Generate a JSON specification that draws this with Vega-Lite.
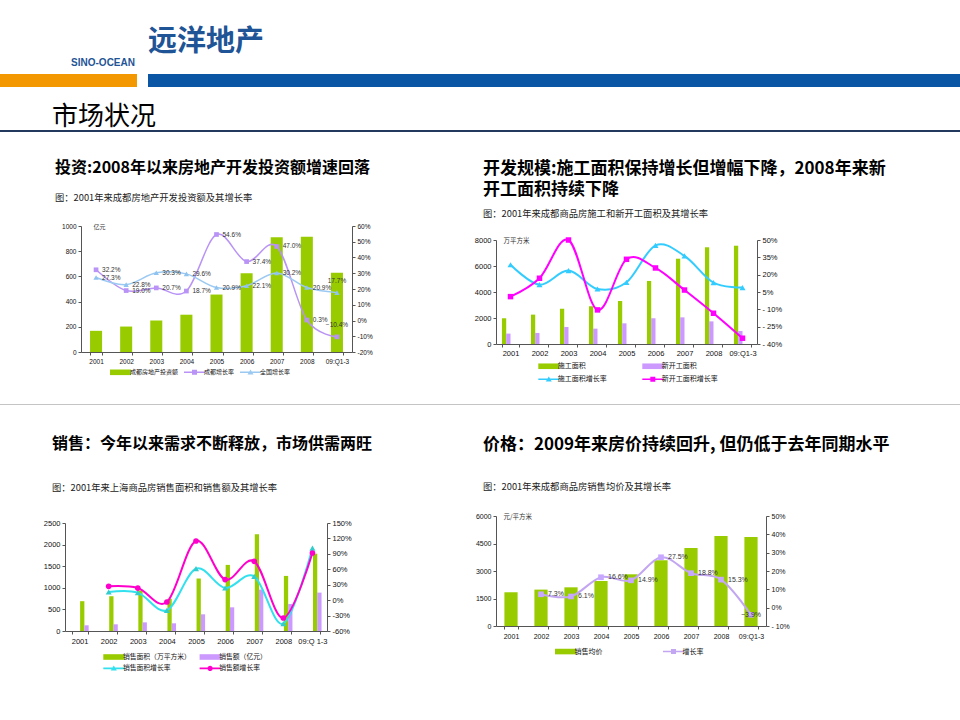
{
  "$schema": "https://vega.github.io/schema/vega-lite/v6.json",
  "background": "white",
  "padding": {"left": 0, "top": 28, "right": 0, "bottom": 0},
  "spacing": 0,
  "resolve": {"scale": {"color": "independent", "shape": "independent"}},
  "config": {
    "view": {"stroke": null},
    "concat": {"spacing": 0},
    "axis": {"grid": false, "domainColor": "#555555", "tickColor": "#555555", "labelColor": "#111111", "labelFont": "Liberation Sans", "tickSize": 3, "labelPadding": 2},
    "title": {"font": "Noto Sans CJK SC", "color": "#000000", "anchor": "start", "frame": "group", "subtitleFont": "Noto Sans CJK SC", "subtitleColor": "#222222", "subtitleFontSize": 9.3},
    "legend": {"padding": 0}
  },
  "vconcat": [
    {
      "spacing": 11,
      "hconcat": [
        {
          "width": 137, "height": 13,
          "data": {"values": []},
          "mark": "point",
          "view": {"fill": "#f39800", "stroke": null},
          "title": {"text": " ", "subtitle": "SINO-OCEAN", "anchor": "end", "fontSize": 29, "subtitleFont": "Liberation Sans", "subtitleFontWeight": "bold", "subtitleFontSize": 10, "subtitleColor": "#1f5496", "subtitlePadding": 1, "offset": 6, "dx": -2}
        },
        {
          "width": 812, "height": 13,
          "data": {"values": []},
          "mark": "point",
          "view": {"fill": "#0b56a4", "stroke": null},
          "title": {"text": "远洋地产", "subtitle": " ", "fontSize": 29, "fontWeight": "bold", "color": "#1f5496", "subtitleFontSize": 10, "subtitlePadding": 1, "offset": 6}
        }
      ]
    },
    {"width": 1, "height": 17, "data": {"values": []}, "mark": "point"},
    {
      "width": 960, "height": 2,
      "data": {"values": []},
      "mark": "point",
      "view": {"fill": "#23395d", "stroke": null},
      "title": {"text": "市场状况", "fontSize": 26, "fontWeight": "normal", "dx": 52, "offset": 0}
    },
    {"width": 1, "height": 27, "data": {"values": []}, "mark": "point"},
    {
      "spacing": 0,
      "resolve": {"scale": {"color": "independent", "shape": "independent"}},
      "hconcat": [
        {"width": 1, "height": 1, "data": {"values": []}, "mark": "point"},
        {
          "spacing": 0,
          "resolve": {"scale": {"color": "independent", "shape": "independent"}},
          "vconcat": [
            {"width": 1, "height": 1, "data": {"values": []}, "mark": "point"},
            {
              "width": 271, "height": 126,
              "title": {"text": "投资:2008年以来房地产开发投资额增速回落", "subtitle": "　图：2001年来成都房地产开发投资额及其增长率", "fontSize": 16, "fontWeight": "bold", "dx": -26, "subtitlePadding": 17.5, "offset": 20},
              "data": {"values": [
                {"year": "2001", "series": "成都房地产投资额", "kind": "bar", "value": 168},
                {"year": "2002", "series": "成都房地产投资额", "kind": "bar", "value": 202},
                {"year": "2003", "series": "成都房地产投资额", "kind": "bar", "value": 250},
                {"year": "2004", "series": "成都房地产投资额", "kind": "bar", "value": 296},
                {"year": "2005", "series": "成都房地产投资额", "kind": "bar", "value": 456},
                {"year": "2006", "series": "成都房地产投资额", "kind": "bar", "value": 625},
                {"year": "2007", "series": "成都房地产投资额", "kind": "bar", "value": 910},
                {"year": "2008", "series": "成都房地产投资额", "kind": "bar", "value": 914},
                {"year": "09:Q1-3", "series": "成都房地产投资额", "kind": "bar", "value": 628},
                {"year": "2001", "series": "成都增长率", "kind": "line", "value": 0.322},
                {"year": "2002", "series": "成都增长率", "kind": "line", "value": 0.19},
                {"year": "2003", "series": "成都增长率", "kind": "line", "value": 0.207},
                {"year": "2004", "series": "成都增长率", "kind": "line", "value": 0.187},
                {"year": "2005", "series": "成都增长率", "kind": "line", "value": 0.546},
                {"year": "2006", "series": "成都增长率", "kind": "line", "value": 0.374},
                {"year": "2007", "series": "成都增长率", "kind": "line", "value": 0.47},
                {"year": "2008", "series": "成都增长率", "kind": "line", "value": 0.003},
                {"year": "09:Q1-3", "series": "成都增长率", "kind": "line", "value": -0.104},
                {"year": "2001", "series": "全国增长率", "kind": "line", "value": 0.273},
                {"year": "2002", "series": "全国增长率", "kind": "line", "value": 0.228},
                {"year": "2003", "series": "全国增长率", "kind": "line", "value": 0.303},
                {"year": "2004", "series": "全国增长率", "kind": "line", "value": 0.296},
                {"year": "2005", "series": "全国增长率", "kind": "line", "value": 0.209},
                {"year": "2006", "series": "全国增长率", "kind": "line", "value": 0.221},
                {"year": "2007", "series": "全国增长率", "kind": "line", "value": 0.302},
                {"year": "2008", "series": "全国增长率", "kind": "line", "value": 0.209},
                {"year": "09:Q1-3", "series": "全国增长率", "kind": "line", "value": 0.177}
              ]},
              "layer": [
                {
                  "transform": [{"filter": "datum.kind === 'bar'"}],
                  "mark": {"type": "bar", "color": "#99cc00"},
                  "encoding": {
                    "x": {"field": "year", "type": "nominal", "sort": ["2001","2002","2003","2004","2005","2006","2007","2008","09:Q1-3"], "scale": {"paddingInner": 0.6, "paddingOuter": 0.3}, "axis": {"title": null, "labelAngle": 0, "labelFontSize": 6.5, "labelPadding": 3, "tickSize": 3, "tickBand": "extent", "labelOverlap": false}},
                    "y": {"field": "value", "type": "quantitative", "scale": {"domain": [0, 1000], "nice": false}, "axis": {"values": [0, 200, 400, 600, 800, 1000], "format": "d", "title": "亿元", "titleAngle": 0, "titleX": 12, "titleY": 0, "titleAlign": "left", "titleBaseline": "middle", "titleFont": "Noto Sans CJK SC", "titleFontSize": 6, "titleFontWeight": "normal", "titleColor": "#333333", "labelFontSize": 6.5, "minExtent": 80, "maxExtent": 80, "labelFlush": false, "labelOverlap": false}}
                  }
                },
                {
                  "transform": [{"filter": "datum.kind === 'line'"}],
                  "encoding": {
                    "x": {"field": "year", "type": "nominal", "sort": ["2001","2002","2003","2004","2005","2006","2007","2008","09:Q1-3"]},
                    "y": {"field": "value", "type": "quantitative", "scale": {"domain": [-0.2, 0.6], "nice": false, "zero": false}, "axis": {"orient": "right", "title": null, "values": [-0.2, -0.1, 0, 0.1, 0.2, 0.3, 0.4, 0.5, 0.6], "labelExpr": "datum.value < 0 ? '-' + format(-datum.value, '.0%') : format(datum.value, '.0%')", "labelFontSize": 6.5, "minExtent": 40, "maxExtent": 40, "labelFlush": false, "labelOverlap": false}}
                  },
                  "layer": [
                    {"transform": [{"filter": "datum.series === '成都增长率'"}], "mark": {"type": "line", "interpolate": "cardinal", "strokeWidth": 1.5, "color": "#b993f5"}},
                    {"transform": [{"filter": "datum.series === '全国增长率'"}], "mark": {"type": "line", "interpolate": "cardinal", "strokeWidth": 1.5, "color": "#9cc9f2"}},
                    {"transform": [{"filter": "datum.series === '成都增长率'"}], "mark": {"type": "point", "shape": "square", "filled": true, "opacity": 1, "size": 22, "color": "#b993f5"}},
                    {"transform": [{"filter": "datum.series === '全国增长率'"}], "mark": {"type": "point", "shape": "triangle-up", "filled": true, "opacity": 1, "size": 28, "color": "#8fc3f0"}},
                    {"transform": [{"filter": "datum.year !== '09:Q1-3'"}], "mark": {"type": "text", "align": "left", "baseline": "middle", "dx": 6, "fontSize": 6.5, "font": "Liberation Sans", "color": "#333333"}, "encoding": {"text": {"field": "value", "type": "quantitative", "format": ".1%"}}},
                    {"transform": [{"filter": "datum.year === '09:Q1-3'"}], "mark": {"type": "text", "align": "center", "baseline": "middle", "dy": -12, "fontSize": 6.5, "font": "Liberation Sans", "color": "#333333"}, "encoding": {"text": {"field": "value", "type": "quantitative", "format": ".1%"}}}
                  ]
                },
                {
                  "mark": {"type": "point", "filled": true, "opacity": 0},
                  "encoding": {
                    "color": {"field": "series", "type": "nominal", "scale": {"domain": ["成都房地产投资额", "成都增长率", "全国增长率"], "range": ["#99cc00", "#b993f5", "#9cc9f2"]}, "legend": {"title": null, "orient": "none", "legendX": 29, "legendY": 143.3, "direction": "horizontal", "columnPadding": 5, "symbolSize": 16, "symbolOffset": -3, "symbolStrokeWidth": 0, "symbolOpacity": 1, "labelOffset": 17, "labelFontSize": 6, "labelFont": "Noto Sans CJK SC", "labelColor": "#111111", "padding": 0}},
                    "shape": {"field": "series", "type": "nominal", "scale": {"domain": ["成都房地产投资额", "成都增长率", "全国增长率"], "range": ["M0,-1.4H10.5V1.4H0Z", "M0,-0.35H10.5V0.35H0Z M4,-1.25H6.5V1.25H4Z", "M0,-0.35H10.5V0.35H0Z M5.25,-1.45L6.75,1.1H3.75Z"]}, "legend": {"title": null, "orient": "none", "legendX": 29, "legendY": 143.3, "direction": "horizontal", "columnPadding": 5, "symbolSize": 16, "symbolOffset": -3, "symbolStrokeWidth": 0, "symbolOpacity": 1, "labelOffset": 17, "labelFontSize": 6, "labelFont": "Noto Sans CJK SC", "labelColor": "#111111", "padding": 0}}
                  }
                }
              ],
              "resolve": {"scale": {"y": "independent"}}
            }
          ]
        },
        {
          "spacing": 0,
          "resolve": {"scale": {"color": "independent", "shape": "independent"}},
          "vconcat": [
            {"width": 1, "height": 1, "data": {"values": []}, "mark": "point"},
            {
              "width": 261, "height": 104,
              "title": {"text": ["开发规模:施工面积保持增长但增幅下降，2008年来新", "开工面积持续下降"], "lineHeight": 21, "subtitle": "图：2001年来成都商品房施工和新开工面积及其增长率", "fontSize": 17, "fontWeight": "bold", "dx": -13, "subtitlePadding": 10.5, "offset": 15.5},
              "data": {"values": [
                {"year": "2001", "series": "施工面积", "kind": "bar", "value": 1980},
                {"year": "2002", "series": "施工面积", "kind": "bar", "value": 2260},
                {"year": "2003", "series": "施工面积", "kind": "bar", "value": 2720},
                {"year": "2004", "series": "施工面积", "kind": "bar", "value": 2900},
                {"year": "2005", "series": "施工面积", "kind": "bar", "value": 3310},
                {"year": "2006", "series": "施工面积", "kind": "bar", "value": 4850},
                {"year": "2007", "series": "施工面积", "kind": "bar", "value": 6560},
                {"year": "2008", "series": "施工面积", "kind": "bar", "value": 7440},
                {"year": "09:Q1-3", "series": "施工面积", "kind": "bar", "value": 7560},
                {"year": "2001", "series": "新开工面积", "kind": "bar", "value": 800},
                {"year": "2002", "series": "新开工面积", "kind": "bar", "value": 850},
                {"year": "2003", "series": "新开工面积", "kind": "bar", "value": 1310},
                {"year": "2004", "series": "新开工面积", "kind": "bar", "value": 1180},
                {"year": "2005", "series": "新开工面积", "kind": "bar", "value": 1590},
                {"year": "2006", "series": "新开工面积", "kind": "bar", "value": 1980},
                {"year": "2007", "series": "新开工面积", "kind": "bar", "value": 2050},
                {"year": "2008", "series": "新开工面积", "kind": "bar", "value": 1740},
                {"year": "09:Q1-3", "series": "新开工面积", "kind": "bar", "value": 1000},
                {"year": "2001", "series": "施工面积增长率", "kind": "line", "value": 0.286},
                {"year": "2002", "series": "施工面积增长率", "kind": "line", "value": 0.113},
                {"year": "2003", "series": "施工面积增长率", "kind": "line", "value": 0.235},
                {"year": "2004", "series": "施工面积增长率", "kind": "line", "value": 0.076},
                {"year": "2005", "series": "施工面积增长率", "kind": "line", "value": 0.134},
                {"year": "2006", "series": "施工面积增长率", "kind": "line", "value": 0.454},
                {"year": "2007", "series": "施工面积增长率", "kind": "line", "value": 0.362},
                {"year": "2008", "series": "施工面积增长率", "kind": "line", "value": 0.131},
                {"year": "09:Q1-3", "series": "施工面积增长率", "kind": "line", "value": 0.088},
                {"year": "2001", "series": "新开工面积增长率", "kind": "line", "value": 0.01},
                {"year": "2002", "series": "新开工面积增长率", "kind": "line", "value": 0.169},
                {"year": "2003", "series": "新开工面积增长率", "kind": "line", "value": 0.5},
                {"year": "2004", "series": "新开工面积增长率", "kind": "line", "value": -0.105},
                {"year": "2005", "series": "新开工面积增长率", "kind": "line", "value": 0.333},
                {"year": "2006", "series": "新开工面积增长率", "kind": "line", "value": 0.258},
                {"year": "2007", "series": "新开工面积增长率", "kind": "line", "value": 0.067},
                {"year": "2008", "series": "新开工面积增长率", "kind": "line", "value": -0.134},
                {"year": "09:Q1-3", "series": "新开工面积增长率", "kind": "line", "value": -0.35}
              ]},
              "layer": [
                {
                  "transform": [{"filter": "datum.kind === 'bar'"}],
                  "encoding": {
                    "x": {"field": "year", "type": "nominal", "sort": ["2001","2002","2003","2004","2005","2006","2007","2008","09:Q1-3"], "scale": {"paddingInner": 0.41, "paddingOuter": 0.205}, "axis": {"title": null, "labelAngle": 0, "labelFontSize": 7.5, "labelPadding": 2, "tickSize": 3, "tickBand": "extent", "labelOverlap": false}},
                    "xOffset": {"field": "series", "type": "nominal", "sort": ["施工面积", "新开工面积"], "scale": {"domain": ["施工面积", "新开工面积"], "paddingInner": 0, "paddingOuter": 0}},
                    "y": {"field": "value", "type": "quantitative", "scale": {"domain": [0, 8000], "nice": false}, "axis": {"values": [0, 2000, 4000, 6000, 8000], "format": "d", "title": "万平方米", "titleAngle": 0, "titleX": 7, "titleY": 0, "titleAlign": "left", "titleBaseline": "middle", "titleFont": "Noto Sans CJK SC", "titleFontSize": 6.5, "titleFontWeight": "normal", "titleColor": "#333333", "labelFontSize": 7.5, "minExtent": 104, "maxExtent": 104, "labelFlush": false, "labelOverlap": false}}
                  },
                  "layer": [
                    {"transform": [{"filter": "datum.series === '施工面积'"}], "mark": {"type": "bar", "color": "#99cc00"}},
                    {"transform": [{"filter": "datum.series === '新开工面积'"}], "mark": {"type": "bar", "color": "#cc99ff"}}
                  ]
                },
                {
                  "transform": [{"filter": "datum.kind === 'line'"}],
                  "encoding": {
                    "x": {"field": "year", "type": "nominal", "sort": ["2001","2002","2003","2004","2005","2006","2007","2008","09:Q1-3"]},
                    "y": {"field": "value", "type": "quantitative", "scale": {"domain": [-0.4, 0.5], "nice": false, "zero": false}, "axis": {"orient": "right", "title": null, "values": [-0.4, -0.25, -0.1, 0.05, 0.2, 0.35, 0.5], "labelExpr": "datum.value < 0 ? '- ' + format(-datum.value, '.0%') : format(datum.value, '.0%')", "labelFontSize": 7.5, "minExtent": 30, "maxExtent": 30, "labelFlush": false, "labelOverlap": false}}
                  },
                  "layer": [
                    {"transform": [{"filter": "datum.series === '施工面积增长率'"}], "mark": {"type": "line", "interpolate": "cardinal", "strokeWidth": 2, "color": "#33ccff"}},
                    {"transform": [{"filter": "datum.series === '新开工面积增长率'"}], "mark": {"type": "line", "interpolate": "cardinal", "strokeWidth": 2, "color": "#ff00ff"}},
                    {"transform": [{"filter": "datum.series === '施工面积增长率'"}], "mark": {"type": "point", "shape": "triangle-up", "filled": true, "opacity": 1, "size": 36, "color": "#33ccff"}},
                    {"transform": [{"filter": "datum.series === '新开工面积增长率'"}], "mark": {"type": "point", "shape": "square", "filled": true, "opacity": 1, "size": 30, "color": "#ff00ff"}}
                  ]
                },
                {
                  "mark": {"type": "point", "filled": true, "opacity": 0},
                  "encoding": {
                    "color": {"field": "series", "type": "nominal", "scale": {"domain": ["施工面积", "新开工面积", "施工面积增长率", "新开工面积增长率"], "range": ["#99cc00", "#cc99ff", "#33ccff", "#ff00ff"]}, "legend": {"title": null, "orient": "none", "legendX": 42.3, "legendY": 122.5, "direction": "horizontal", "columns": 2, "columnPadding": 35, "rowPadding": 5.3, "symbolSize": 16, "symbolOffset": -3.5, "symbolStrokeWidth": 0, "symbolOpacity": 1, "labelOffset": 16, "labelFontSize": 7, "labelFont": "Noto Sans CJK SC", "labelColor": "#111111", "padding": 0}},
                    "shape": {"field": "series", "type": "nominal", "scale": {"domain": ["施工面积", "新开工面积", "施工面积增长率", "新开工面积增长率"], "range": ["M0,-1.4H10.5V1.4H0Z", "M0,-1.4H10.5V1.4H0Z", "M0,-0.4H10.5V0.4H0Z M5.25,-1.45L6.75,1.1H3.75Z", "M0,-0.4H10.5V0.4H0Z M4,-1.25H6.5V1.25H4Z"]}, "legend": {"title": null, "orient": "none", "legendX": 42.3, "legendY": 122.5, "direction": "horizontal", "columns": 2, "columnPadding": 35, "rowPadding": 5.3, "symbolSize": 16, "symbolOffset": -3.5, "symbolStrokeWidth": 0, "symbolOpacity": 1, "labelOffset": 16, "labelFontSize": 7, "labelFont": "Noto Sans CJK SC", "labelColor": "#111111", "padding": 0}}
                  }
                }
              ],
              "resolve": {"scale": {"y": "independent"}}
            }
          ]
        }
      ]
    },
    {"width": 1, "height": 21, "data": {"values": []}, "mark": "point"},
    {"width": 960, "height": 1, "data": {"values": []}, "mark": "point", "view": {"fill": "#c4c4c4", "stroke": null}},
    {"width": 1, "height": 29.5, "data": {"values": []}, "mark": "point"},
    {
      "spacing": 0,
      "resolve": {"scale": {"color": "independent", "shape": "independent"}},
      "hconcat": [
        {"width": 1, "height": 1, "data": {"values": []}, "mark": "point"},
        {
          "spacing": 0,
          "resolve": {"scale": {"color": "independent", "shape": "independent"}},
          "vconcat": [
            {"width": 1, "height": 1, "data": {"values": []}, "mark": "point"},
            {
              "width": 262, "height": 108,
              "title": {"text": "销售：今年以来需求不断释放，市场供需两旺", "subtitle": "图：2001年来上海商品房销售面积和销售额及其增长率", "fontSize": 16, "fontWeight": "bold", "dx": -13, "subtitlePadding": 32, "offset": 25.5},
              "data": {"values": [
                {"year": "2001", "series": "销售面积（万平方米）", "kind": "bar", "value": 690},
                {"year": "2002", "series": "销售面积（万平方米）", "kind": "bar", "value": 805},
                {"year": "2003", "series": "销售面积（万平方米）", "kind": "bar", "value": 940},
                {"year": "2004", "series": "销售面积（万平方米）", "kind": "bar", "value": 745},
                {"year": "2005", "series": "销售面积（万平方米）", "kind": "bar", "value": 1215},
                {"year": "2006", "series": "销售面积（万平方米）", "kind": "bar", "value": 1530},
                {"year": "2007", "series": "销售面积（万平方米）", "kind": "bar", "value": 2240},
                {"year": "2008", "series": "销售面积（万平方米）", "kind": "bar", "value": 1275},
                {"year": "09:Q 1-3", "series": "销售面积（万平方米）", "kind": "bar", "value": 1790},
                {"year": "2001", "series": "销售额（亿元）", "kind": "bar", "value": 132},
                {"year": "2002", "series": "销售额（亿元）", "kind": "bar", "value": 155},
                {"year": "2003", "series": "销售额（亿元）", "kind": "bar", "value": 200},
                {"year": "2004", "series": "销售额（亿元）", "kind": "bar", "value": 178},
                {"year": "2005", "series": "销售额（亿元）", "kind": "bar", "value": 386},
                {"year": "2006", "series": "销售额（亿元）", "kind": "bar", "value": 548},
                {"year": "2007", "series": "销售额（亿元）", "kind": "bar", "value": 958},
                {"year": "2008", "series": "销售额（亿元）", "kind": "bar", "value": 625},
                {"year": "09:Q 1-3", "series": "销售额（亿元）", "kind": "bar", "value": 889},
                {"year": "2002", "series": "销售面积增长率", "kind": "line", "value": 0.158},
                {"year": "2003", "series": "销售面积增长率", "kind": "line", "value": 0.146},
                {"year": "2004", "series": "销售面积增长率", "kind": "line", "value": -0.198},
                {"year": "2005", "series": "销售面积增长率", "kind": "line", "value": 0.613},
                {"year": "2006", "series": "销售面积增长率", "kind": "line", "value": 0.236},
                {"year": "2007", "series": "销售面积增长率", "kind": "line", "value": 0.463},
                {"year": "2008", "series": "销售面积增长率", "kind": "line", "value": -0.457},
                {"year": "09:Q 1-3", "series": "销售面积增长率", "kind": "line", "value": 1.01},
                {"year": "2002", "series": "销售额增长率", "kind": "line", "value": 0.268},
                {"year": "2003", "series": "销售额增长率", "kind": "line", "value": 0.235},
                {"year": "2004", "series": "销售额增长率", "kind": "line", "value": -0.037},
                {"year": "2005", "series": "销售额增长率", "kind": "line", "value": 1.15},
                {"year": "2006", "series": "销售额增长率", "kind": "line", "value": 0.399},
                {"year": "2007", "series": "销售额增长率", "kind": "line", "value": 0.755},
                {"year": "2008", "series": "销售额增长率", "kind": "line", "value": -0.348},
                {"year": "09:Q 1-3", "series": "销售额增长率", "kind": "line", "value": 0.916}
              ]},
              "layer": [
                {
                  "transform": [{"filter": "datum.kind === 'bar'"}],
                  "encoding": {
                    "x": {"field": "year", "type": "nominal", "sort": ["2001","2002","2003","2004","2005","2006","2007","2008","09:Q 1-3"], "scale": {"paddingInner": 0.45, "paddingOuter": 0.225}, "axis": {"title": null, "labelAngle": 0, "labelFontSize": 7.5, "labelPadding": 3, "tickSize": 3, "tickBand": "extent", "labelOverlap": false}},
                    "xOffset": {"field": "series", "type": "nominal", "sort": ["销售面积（万平方米）", "销售额（亿元）"], "scale": {"domain": ["销售面积（万平方米）", "销售额（亿元）"], "paddingInner": 0, "paddingOuter": 0}},
                    "y": {"field": "value", "type": "quantitative", "scale": {"domain": [0, 2500], "nice": false}, "axis": {"values": [0, 500, 1000, 1500, 2000, 2500], "format": "d", "title": null, "labelFontSize": 7.5, "minExtent": 64, "maxExtent": 64, "labelFlush": false, "labelOverlap": false}}
                  },
                  "layer": [
                    {"transform": [{"filter": "datum.series === '销售面积（万平方米）'"}], "mark": {"type": "bar", "color": "#99cc00"}},
                    {"transform": [{"filter": "datum.series === '销售额（亿元）'"}], "mark": {"type": "bar", "color": "#cc99ff"}}
                  ]
                },
                {
                  "transform": [{"filter": "datum.kind === 'line'"}],
                  "encoding": {
                    "x": {"field": "year", "type": "nominal", "sort": ["2001","2002","2003","2004","2005","2006","2007","2008","09:Q 1-3"]},
                    "y": {"field": "value", "type": "quantitative", "scale": {"domain": [-0.6, 1.5], "nice": false, "zero": false}, "axis": {"orient": "right", "title": null, "values": [-0.6, -0.3, 0, 0.3, 0.6, 0.9, 1.2, 1.5], "labelExpr": "datum.value < 0 ? '-' + format(-datum.value, '.0%') : format(datum.value, '.0%')", "labelFontSize": 7.5, "minExtent": 50, "maxExtent": 50, "labelFlush": false, "labelOverlap": false}}
                  },
                  "layer": [
                    {"transform": [{"filter": "datum.series === '销售面积增长率'"}], "mark": {"type": "line", "interpolate": "cardinal", "strokeWidth": 2, "color": "#33e0ee"}},
                    {"transform": [{"filter": "datum.series === '销售额增长率'"}], "mark": {"type": "line", "interpolate": "cardinal", "strokeWidth": 2, "color": "#ff00cc"}},
                    {"transform": [{"filter": "datum.series === '销售面积增长率'"}], "mark": {"type": "point", "shape": "triangle-up", "filled": true, "opacity": 1, "size": 36, "color": "#33cccc"}},
                    {"transform": [{"filter": "datum.series === '销售额增长率'"}], "mark": {"type": "point", "shape": "circle", "filled": true, "opacity": 1, "size": 32, "color": "#ff00cc"}}
                  ]
                },
                {
                  "mark": {"type": "point", "filled": true, "opacity": 0},
                  "encoding": {
                    "color": {"field": "series", "type": "nominal", "scale": {"domain": ["销售面积（万平方米）", "销售额（亿元）", "销售面积增长率", "销售额增长率"], "range": ["#99cc00", "#cc99ff", "#33e0ee", "#ff00cc"]}, "legend": {"title": null, "orient": "none", "legendX": 38.3, "legendY": 130.2, "direction": "horizontal", "columns": 2, "columnPadding": 8.3, "rowPadding": 3.8, "symbolSize": 16, "symbolOffset": -3.4, "symbolStrokeWidth": 0, "symbolOpacity": 1, "labelOffset": 16.2, "labelFontSize": 6.8, "labelFont": "Noto Sans CJK SC", "labelColor": "#111111", "padding": 0}},
                    "shape": {"field": "series", "type": "nominal", "scale": {"domain": ["销售面积（万平方米）", "销售额（亿元）", "销售面积增长率", "销售额增长率"], "range": ["M0,-1.4H10.5V1.4H0Z", "M0,-1.4H10.5V1.4H0Z", "M0,-0.4H10.5V0.4H0Z M5.25,-1.45L6.75,1.1H3.75Z", "M0,-0.4H10.5V0.4H0Z M3.95,0A1.3,1.3 0 1,1 6.55,0A1.3,1.3 0 1,1 3.95,0Z"]}, "legend": {"title": null, "orient": "none", "legendX": 38.3, "legendY": 130.2, "direction": "horizontal", "columns": 2, "columnPadding": 8.3, "rowPadding": 3.8, "symbolSize": 16, "symbolOffset": -3.4, "symbolStrokeWidth": 0, "symbolOpacity": 1, "labelOffset": 16.2, "labelFontSize": 6.8, "labelFont": "Noto Sans CJK SC", "labelColor": "#111111", "padding": 0}}
                  }
                }
              ],
              "resolve": {"scale": {"y": "independent"}}
            }
          ]
        },
        {
          "spacing": 0,
          "resolve": {"scale": {"color": "independent", "shape": "independent"}},
          "vconcat": [
            {"width": 1, "height": 1, "data": {"values": []}, "mark": "point"},
            {
              "width": 270, "height": 110,
              "title": {"text": "价格：2009年来房价持续回升, 但仍低于去年同期水平", "subtitle": "　　图：2001年来成都商品房销售均价及其增长率", "fontSize": 17, "fontWeight": "bold", "dx": -13, "subtitlePadding": 28.7, "offset": 19},
              "data": {"values": [
                {"year": "2001", "series": "销售均价", "kind": "bar", "value": 1840},
                {"year": "2002", "series": "销售均价", "kind": "bar", "value": 1985},
                {"year": "2003", "series": "销售均价", "kind": "bar", "value": 2110},
                {"year": "2004", "series": "销售均价", "kind": "bar", "value": 2455},
                {"year": "2005", "series": "销售均价", "kind": "bar", "value": 2820},
                {"year": "2006", "series": "销售均价", "kind": "bar", "value": 3585},
                {"year": "2007", "series": "销售均价", "kind": "bar", "value": 4255},
                {"year": "2008", "series": "销售均价", "kind": "bar", "value": 4910},
                {"year": "09:Q1-3", "series": "销售均价", "kind": "bar", "value": 4860},
                {"year": "2002", "series": "增长率", "kind": "line", "value": 0.073},
                {"year": "2003", "series": "增长率", "kind": "line", "value": 0.061},
                {"year": "2004", "series": "增长率", "kind": "line", "value": 0.166},
                {"year": "2005", "series": "增长率", "kind": "line", "value": 0.149},
                {"year": "2006", "series": "增长率", "kind": "line", "value": 0.275},
                {"year": "2007", "series": "增长率", "kind": "line", "value": 0.188},
                {"year": "2008", "series": "增长率", "kind": "line", "value": 0.153},
                {"year": "09:Q1-3", "series": "增长率", "kind": "line", "value": -0.039}
              ]},
              "layer": [
                {
                  "transform": [{"filter": "datum.kind === 'bar'"}],
                  "mark": {"type": "bar", "color": "#99cc00"},
                  "encoding": {
                    "x": {"field": "year", "type": "nominal", "sort": ["2001","2002","2003","2004","2005","2006","2007","2008","09:Q1-3"], "scale": {"paddingInner": 0.56, "paddingOuter": 0.28}, "axis": {"title": null, "labelAngle": 0, "labelFontSize": 7, "labelPadding": 3.5, "tickSize": 3, "tickBand": "extent", "labelOverlap": false}},
                    "y": {"field": "value", "type": "quantitative", "scale": {"domain": [0, 6000], "nice": false}, "axis": {"values": [0, 1500, 3000, 4500, 6000], "format": "d", "title": "元/平方米", "titleAngle": 0, "titleX": 7, "titleY": 0, "titleAlign": "left", "titleBaseline": "middle", "titleFont": "Noto Sans CJK SC", "titleFontSize": 6.5, "titleFontWeight": "normal", "titleColor": "#333333", "labelFontSize": 7, "minExtent": 119, "maxExtent": 119, "labelFlush": false, "labelOverlap": false}}
                  }
                },
                {
                  "transform": [{"filter": "datum.kind === 'line'"}],
                  "encoding": {
                    "x": {"field": "year", "type": "nominal", "sort": ["2001","2002","2003","2004","2005","2006","2007","2008","09:Q1-3"]},
                    "y": {"field": "value", "type": "quantitative", "scale": {"domain": [-0.1, 0.5], "nice": false, "zero": false}, "axis": {"orient": "right", "title": null, "values": [-0.1, 0, 0.1, 0.2, 0.3, 0.4, 0.5], "labelExpr": "datum.value < 0 ? '- ' + format(-datum.value, '.0%') : format(datum.value, '.0%')", "labelFontSize": 7, "minExtent": 30, "maxExtent": 30, "labelFlush": false, "labelOverlap": false}}
                  },
                  "layer": [
                    {"mark": {"type": "line", "interpolate": "cardinal", "strokeWidth": 2, "color": "#c3a6f2"}},
                    {"mark": {"type": "point", "shape": "square", "filled": true, "opacity": 1, "size": 32, "color": "#c8a8ff"}},
                    {"transform": [{"filter": "datum.year !== '09:Q1-3'"}], "mark": {"type": "text", "align": "left", "baseline": "middle", "dx": 7, "fontSize": 7, "font": "Liberation Sans", "color": "#333333"}, "encoding": {"text": {"field": "value", "type": "quantitative", "format": ".1%"}}},
                    {"transform": [{"filter": "datum.year === '09:Q1-3'"}], "mark": {"type": "text", "align": "center", "baseline": "middle", "fontSize": 7, "font": "Liberation Sans", "color": "#333333"}, "encoding": {"text": {"field": "value", "type": "quantitative", "format": ".1%"}}}
                  ]
                },
                {
                  "mark": {"type": "point", "filled": true, "opacity": 0},
                  "encoding": {
                    "color": {"field": "series", "type": "nominal", "scale": {"domain": ["销售均价", "增长率"], "range": ["#99cc00", "#c3a6f2"]}, "legend": {"title": null, "orient": "none", "legendX": 59, "legendY": 131.8, "direction": "horizontal", "columnPadding": 60, "symbolSize": 16, "symbolOffset": -3.5, "symbolStrokeWidth": 0, "symbolOpacity": 1, "labelOffset": 16, "labelFontSize": 7, "labelFont": "Noto Sans CJK SC", "labelColor": "#111111", "padding": 0}},
                    "shape": {"field": "series", "type": "nominal", "scale": {"domain": ["销售均价", "增长率"], "range": ["M0,-1.4H10.5V1.4H0Z", "M0,-0.4H10.5V0.4H0Z M4,-1.25H6.5V1.25H4Z"]}, "legend": {"title": null, "orient": "none", "legendX": 59, "legendY": 131.8, "direction": "horizontal", "columnPadding": 60, "symbolSize": 16, "symbolOffset": -3.5, "symbolStrokeWidth": 0, "symbolOpacity": 1, "labelOffset": 16, "labelFontSize": 7, "labelFont": "Noto Sans CJK SC", "labelColor": "#111111", "padding": 0}}
                  }
                }
              ],
              "resolve": {"scale": {"y": "independent"}}
            }
          ]
        }
      ]
    }
  ]
}
